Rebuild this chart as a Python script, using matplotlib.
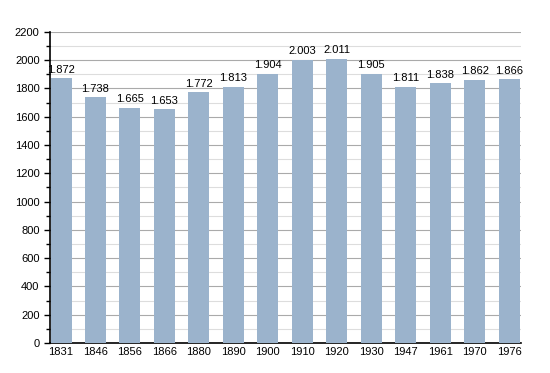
import matplotlib
matplotlib.use("Agg")
import matplotlib.pyplot as plt
from matplotlib.ticker import MultipleLocator

years = ["1831", "1846", "1856", "1866", "1880", "1890", "1900", "1910", "1920", "1930", "1947", "1961", "1970", "1976"]
population = [1872, 1738, 1665, 1653, 1772, 1813, 1904, 2003, 2011, 1905, 1811, 1838, 1862, 1866]

plt.rcParams['font.family'] = ['Liberation Sans', 'DejaVu Sans']
fig = plt.figure(figsize=(5.5, 3.73), dpi=100)
ax = fig.add_axes([0.0909, 0.0804, 0.856, 0.834])
x = list(range(len(years)))
ax.bar(x, population, width=0.61, color="#9bb3cc", zorder=3)
for xi, v in zip(x, population):
    ax.text(xi, v + 25, f"{v/1000:.3f}", ha="center", va="bottom", fontsize=8, zorder=4)
ax.set_xlim(-0.32, 13.34)
ax.set_ylim(0, 2200)
ax.set_xticks(x)
ax.set_xticklabels(years, fontsize=8)
ax.yaxis.set_major_locator(MultipleLocator(200))
ax.yaxis.set_minor_locator(MultipleLocator(100))
ax.tick_params(axis="y", labelsize=8, length=4, width=1, direction="out")
ax.tick_params(axis="y", which="minor", length=3, width=1)
ax.tick_params(axis="x", length=0, pad=3)
ax.grid(axis="y", which="major", color="#aaaaaa", linewidth=0.8, zorder=0)
ax.grid(axis="y", which="minor", color="#dddddd", linewidth=0.8, zorder=0)
for s in ["top", "right"]:
    ax.spines[s].set_visible(False)
ax.spines["left"].set_linewidth(1.2)
ax.spines["bottom"].set_linewidth(1.2)
fig.savefig("out.png", dpi=100)
